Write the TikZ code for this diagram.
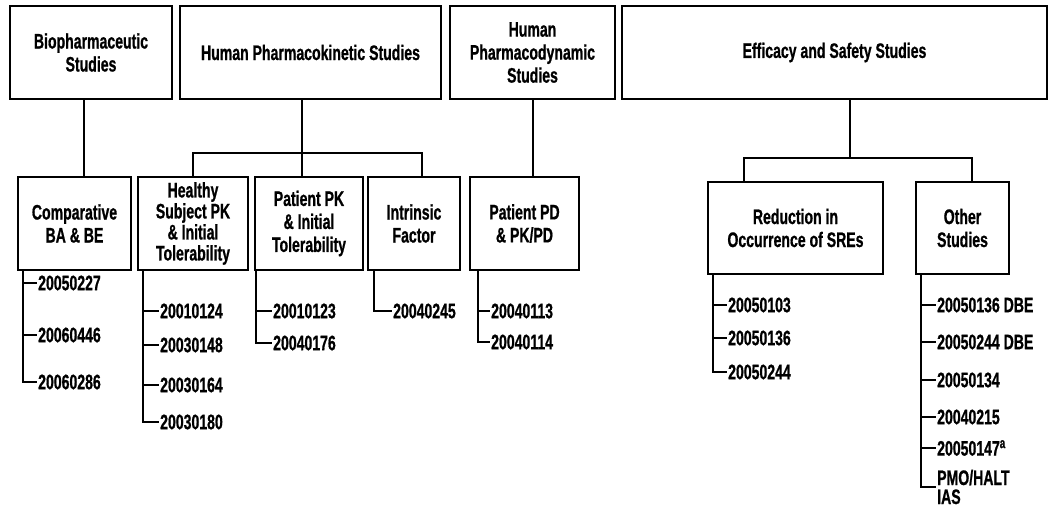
\documentclass[tikz,border=0pt]{standalone}
\usepackage{fontspec}
\usepackage{tikz}
\usetikzlibrary{calc}

\newfontfamily\chartfont{Liberation Sans}[FakeStretch=0.67, BoldFeatures={FakeBold=0.8}]
\newcommand\chart{\chartfont\bfseries\fontsize{21}{23}\selectfont}
\newcommand\chartsnug{\chartfont\bfseries\fontsize{21}{21}\selectfont}

\tikzset{
  group/.style={draw, line width=2pt, align=center, font=\chart, inner sep=2pt},
  entry/.style={anchor=west, font=\chart, inner sep=1pt, align=left},
  link/.style={line width=2pt},
}

\begin{document}
\begin{tikzpicture}[x=1pt, y=-1pt]
\useasboundingbox (0,0) rectangle (1053,512);

% top row
\node[group, minimum width=162pt, minimum height=93pt] (bio) at (91,52.5) {Biopharmaceutic\\Studies};
\node[group, minimum width=261pt, minimum height=93pt] (hpk) at (310.5,52.5) {Human Pharmacokinetic Studies};
\node[group, minimum width=165pt, minimum height=93pt] (hpd) at (532.5,52.5) {Human\\Pharmacodynamic\\Studies};
\node[group, minimum width=425pt, minimum height=93pt] (es) at (834.5,52.5) {Efficacy and Safety Studies};

% second row
\node[group, minimum width=113pt, minimum height=93pt] (cmp) at (74.5,223.5) {Comparative\\BA \& BE};
\node[group, minimum width=110pt, minimum height=93pt, inner ysep=0pt, font=\chartsnug] (hlt) at (193,223.5) {Healthy\\Subject PK\\\& Initial\\Tolerability};
\node[group, minimum width=108pt, minimum height=93pt] (ppk) at (309,223.5) {Patient PK\\\& Initial\\Tolerability};
\node[group, minimum width=92pt, minimum height=93pt] (ifc) at (414,223.5) {Intrinsic\\Factor};
\node[group, minimum width=109pt, minimum height=93pt] (ppd) at (524.5,223.5) {Patient PD\\\& PK/PD};
\node[group, minimum width=175pt, minimum height=92pt] (red) at (795.5,228) {Reduction in\\Occurrence of SREs};
\node[group, minimum width=93pt, minimum height=92pt] (oth) at (962.5,228) {Other\\Studies};

% top to second row
\draw[link] ([xshift=-7pt]bio.south) -- ([xshift=-7pt]bio.south |- cmp.north);
\draw[link] (hpd.south) -- (hpd.south |- ppd.north);

\coordinate (pkbus) at (302,153);
\draw[link] ([xshift=-8.5pt]hpk.south) -- (pkbus);
\draw[link] (hlt.north) |- (pkbus) -| ([xshift=8pt]ifc.north);
\draw[link] (pkbus) -- (pkbus |- ppk.north);

\coordinate (esbus) at (850,158);
\draw[link] ([xshift=15.5pt]es.south) -- (esbus);
\draw[link] ([xshift=-51.5pt]red.north) |- (esbus) -| ([xshift=9.5pt]oth.north);

% study lists
\foreach \id/\y [count=\i] in {20050227/283, 20060446/335, 20060286/382}
  \node[entry] (cmp\i) at (37,\y) {\id};
\coordinate (cmpt) at ([xshift=6pt]cmp.south west);
\draw[link] (cmpt) |- (cmp3.west);
\foreach \i in {1,2}
  \draw[link] (cmpt |- cmp\i.west) -- (cmp\i.west);

\foreach \id/\y [count=\i] in {20010124/311, 20030148/345, 20030164/385, 20030180/422}
  \node[entry] (hlt\i) at (159,\y) {\id};
\coordinate (hltt) at ([xshift=6pt]hlt.south west);
\draw[link] (hltt) |- (hlt4.west);
\foreach \i in {1,2,3}
  \draw[link] (hltt |- hlt\i.west) -- (hlt\i.west);

\foreach \id/\y [count=\i] in {20010123/311, 20040176/343}
  \node[entry] (ppk\i) at (272,\y) {\id};
\coordinate (ppkt) at ([xshift=2pt]ppk.south west);
\draw[link] (ppkt) |- (ppk2.west);
\draw[link] (ppkt |- ppk1.west) -- (ppk1.west);

\node[entry] (ifc1) at (392,311) {20040245};
\draw[link] ([xshift=7pt]ifc.south west) |- (ifc1.west);

\foreach \id/\y [count=\i] in {20040113/311, 20040114/342}
  \node[entry] (ppd\i) at (490,\y) {\id};
\coordinate (ppdt) at ([xshift=9pt]ppd.south west);
\draw[link] (ppdt) |- (ppd2.west);
\draw[link] (ppdt |- ppd1.west) -- (ppd1.west);

\foreach \id/\y [count=\i] in {20050103/305, 20050136/338, 20050244/372}
  \node[entry] (red\i) at (727,\y) {\id};
\coordinate (redt) at ([xshift=6pt]red.south west);
\draw[link] (redt) |- (red3.west);
\foreach \i in {1,2}
  \draw[link] (redt |- red\i.west) -- (red\i.west);

\foreach \id/\y [count=\i] in {20050136 DBE/305, 20050244 DBE/342, 20050134/380, 20040215/417, 20050147\textsuperscript{a}/448}
  \node[entry] (oth\i) at (936,\y) {\id};
\node[entry, font=\chartfont\bfseries\fontsize{21}{19}\selectfont] (oth6) at (936,487) {PMO/HALT\\IAS};
\coordinate (otht) at ([xshift=6pt]oth.south west);
\draw[link] (otht) |- (oth6.west);
\foreach \i in {1,...,5}
  \draw[link] (otht |- oth\i.west) -- (oth\i.west);
\end{tikzpicture}
\end{document}
